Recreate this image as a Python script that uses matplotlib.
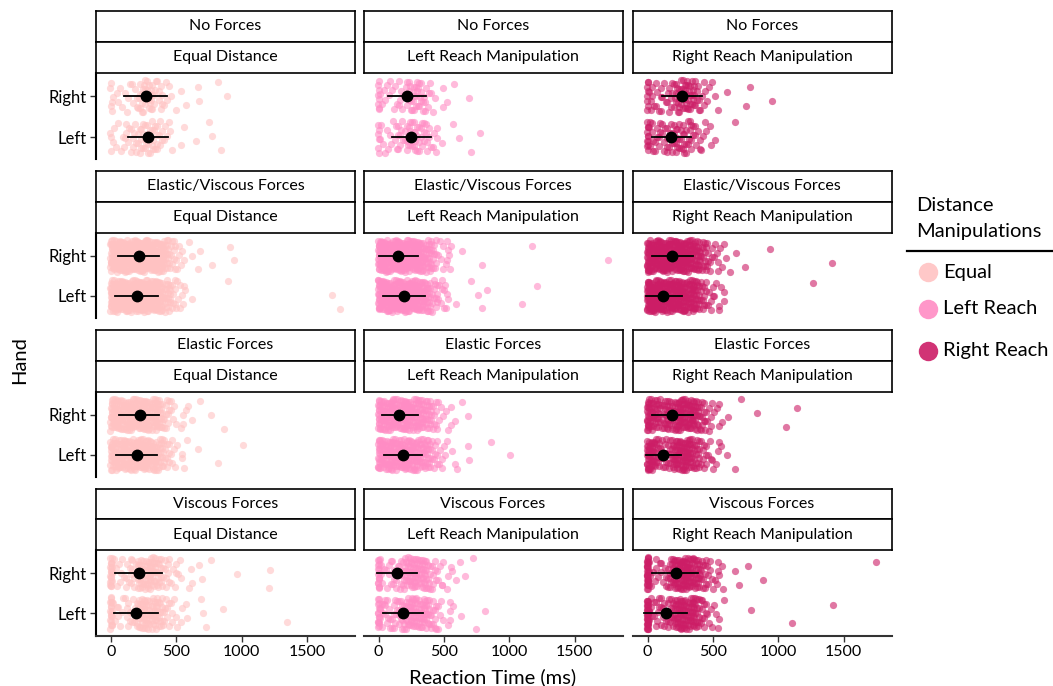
import numpy as np
import matplotlib
matplotlib.use("Agg")
import matplotlib.pyplot as plt
from matplotlib.lines import Line2D

plt.rcParams['font.family'] = ['Lato', 'DejaVu Sans']

# ---------------- data ----------------
force_rows = ["No Forces", "Elastic/Viscous Forces", "Elastic Forces", "Viscous Forces"]
dist_cols = ["Equal Distance", "Left Reach Manipulation", "Right Reach Manipulation"]
hands = ["Left", "Right"]
legend_labels = ["Equal", "Left Reach", "Right Reach"]
x_ticks = [0, 500, 1000, 1500]

# reaction-time bins (ms) and number of trials per bin, [col][hand]
bin_centers = [25, 75, 125, 175, 225, 275, 325, 375, 425, 475, 525, 575]

no_forces_zeros = [[3, 4], [6, 8], [10, 8]]
no_forces_counts = [
    [[3, 3, 6, 8, 10, 12, 10, 7, 4, 2, 0, 0], [3, 3, 4, 5, 10, 12, 10, 7, 4, 2, 0, 0]],
    [[4, 4, 5, 7, 11, 12, 10, 7, 4, 2, 0, 0], [3, 4, 4, 6, 10, 12, 10, 6, 3, 1, 0, 0]],
    [[8, 8, 7, 9, 12, 12, 10, 6, 4, 2, 0, 0], [6, 5, 5, 8, 14, 16, 14, 10, 5, 3, 0, 0]],
]
no_forces_outliers = [
    [[535, 560, 649, 750, 771, 840], [534, 572, 662, 674, 814, 885]],
    [[567, 612, 703, 779], [490, 520, 580, 688]],
    [[519, 668], [512, 535, 604, 755, 781, 948]],
]

elvis_zeros = [[10, 10], [10, 10], [12, 10]]
elvis_counts = [
    [[34, 34, 34, 38, 38, 38, 34, 28, 20, 10, 5, 2], [34, 34, 34, 38, 38, 38, 34, 28, 20, 10, 5, 2]],
    [[34, 34, 34, 34, 34, 32, 28, 22, 12, 6, 3, 1], [34, 34, 34, 34, 34, 32, 28, 22, 12, 5, 2, 1]],
    [[38, 35, 34, 34, 34, 32, 28, 22, 12, 6, 3, 1], [34, 34, 34, 34, 34, 34, 30, 24, 15, 8, 4, 2]],
]
elvis_outliers = [
    [[555, 616, 891, 1690, 1754], [616, 664, 682, 769, 906, 941]],
    [[505, 530, 708, 758, 788, 826, 1093, 1213], [520, 527, 535, 548, 637, 788, 1172, 1752]],
    [[550, 563, 581, 1268], [542, 581, 601, 627, 678, 742, 935, 1411]],
]

elastic_zeros = [[8, 8], [8, 8], [12, 10]]
elastic_counts = [
    [[26, 26, 26, 28, 28, 28, 25, 20, 10, 5, 2, 1], [26, 26, 26, 28, 28, 28, 25, 20, 10, 5, 2, 1]],
    [[26, 26, 26, 26, 26, 26, 22, 18, 10, 5, 2, 1], [26, 26, 26, 26, 26, 26, 22, 18, 10, 4, 2, 1]],
    [[28, 16, 11, 14, 26, 28, 24, 16, 9, 4, 2, 1], [26, 20, 15, 18, 26, 28, 25, 20, 12, 6, 3, 1]],
]
elastic_outliers = [
    [[545, 557, 666, 814, 1010], [548, 590, 620, 682, 763, 865]],
    [[560, 581, 683, 695, 860, 1003], [557, 581, 637, 683]],
    [[496, 550, 609, 671], [545, 614, 711, 840, 1058, 1145]],
]

viscous_zeros = [[18, 20], [15, 15], [30, 30]]
viscous_counts = [
    [[4, 5, 7, 8, 20, 22, 20, 15, 8, 5, 3, 1], [4, 5, 6, 8, 20, 22, 20, 15, 8, 5, 3, 1]],
    [[8, 8, 10, 14, 20, 22, 20, 16, 10, 5, 2, 1], [6, 6, 8, 12, 20, 22, 20, 15, 8, 4, 2, 1]],
    [[6, 8, 8, 14, 24, 27, 24, 19, 10, 4, 2, 1], [4, 5, 6, 14, 27, 30, 27, 21, 12, 6, 3, 1]],
]
viscous_outliers = [
    [[580, 687, 705, 725, 853, 1344], [611, 616, 675, 695, 763, 960, 1205, 1212]],
    [[545, 550, 632, 746, 815], [488, 556, 594, 624, 662, 720]],
    [[527, 537, 794, 1106, 1414], [517, 536, 550, 575, 665, 698, 768, 883, 1750]],
]

# mean reaction time and error-bar limits, [row][col][hand]
mean_rt = [
    [[285, 264], [248, 216], [182, 264]],
    [[195, 213], [195, 150], [121, 190]],
    [[195, 221], [190, 160], [121, 190]],
    [[192, 213], [190, 143], [138, 215]],
]
err_lo = [
    [[128, 102], [103, 70], [33, 110]],
    [[33, 56], [35, 2], [-15, 33]],
    [[41, 64], [40, 23], [-10, 31]],
    [[26, 33], [35, -8], [-28, 36]],
]
err_hi = [
    [[436, 428], [398, 361], [331, 418]],
    [[362, 367], [354, 303], [264, 344]],
    [[354, 367], [336, 299], [259, 349]],
    [[362, 390], [341, 293], [298, 382]],
]

zeros_all = [no_forces_zeros, elvis_zeros, elastic_zeros, viscous_zeros]
counts_all = [no_forces_counts, elvis_counts, elastic_counts, viscous_counts]
outliers_all = [no_forces_outliers, elvis_outliers, elastic_outliers, viscous_outliers]

# ---------------- style ----------------
point_colors = ["#FFC2C2", "#FF8CC4", "#CC1D66"]
W, H = 1053, 686
fig = plt.figure(figsize=(W / 100, H / 100), dpi=100)


def frect(x0, y0, x1, y1):
    return [x0 / W, 1 - y1 / H, (x1 - x0) / W, (y1 - y0) / H]


col_x = [96, 363.5, 632.5]
panel_w = 259
strip_top = [11, 171, 330, 488.5]
strip_h = 30.8
panel_bottom = [159.5, 318, 476.5, 635.5]

A1, A2 = 0.7548776662, 0.5698402910  # low-discrepancy jitter sequence


def jitter(n, seed_off):
    k = np.arange(n) + seed_off
    return (0.5 + k * A1) % 1.0, (0.5 + k * A2) % 1.0


for r in range(4):
    for c in range(3):
        x0 = col_x[c]
        st = strip_top[r]
        for k, lab in enumerate([force_rows[r], dist_cols[c]]):
            sa = fig.add_axes(frect(x0, st + k * strip_h, x0 + panel_w, st + (k + 1) * strip_h))
            sa.set_xticks([]); sa.set_yticks([])
            for sp in sa.spines.values():
                sp.set_color("black"); sp.set_linewidth(1.2)
            sa.text(0.5, 0.5, lab, ha="center", va="center", fontsize=11.5, transform=sa.transAxes)
        ax = fig.add_axes(frect(x0, st + 2 * strip_h, x0 + panel_w, panel_bottom[r]))
        ax.set_xlim(-115, 1865)
        ax.set_ylim(-0.55, 1.58)
        ax.patch.set_alpha(0)
        for sp in ax.spines.values():
            sp.set_visible(False)
        for h in range(2):
            vals = []
            xw = []
            nz = zeros_all[r][c][h]
            vals += [0.0] * nz
            xw += [8.0] * nz
            for bc, cnt in zip(bin_centers, counts_all[r][c][h]):
                vals += [float(bc)] * cnt
                xw += [25.0] * cnt
            outs = outliers_all[r][c][h]
            vals += [float(v) for v in outs]
            xw += [0.0] * len(outs)
            vals = np.array(vals); xw = np.array(xw)
            u, v = jitter(len(vals), 17 * (r * 6 + c * 2 + h))
            xs = vals + (u * 2 - 1) * xw
            ys = h + (v * 2 - 1) * 0.4
            ax.scatter(xs, ys, s=27, color=point_colors[c], alpha=0.6, linewidths=0, zorder=2)
            ax.plot([err_lo[r][c][h], err_hi[r][c][h]], [h, h], color="black", lw=1.3, zorder=3)
            ax.plot([mean_rt[r][c][h]], [h], "o", color="black", ms=7.5, zorder=4)
        if c == 0:
            ax.spines["left"].set_visible(True)
            ax.spines["left"].set_color("black")
            ax.spines["left"].set_linewidth(1.5)
            ax.set_yticks([0, 1])
            ax.set_yticklabels(hands, fontsize=12)
            ax.tick_params(axis="y", length=4, width=1, color="#333333", pad=3)
        else:
            ax.set_yticks([])
        if r == 3:
            ax.spines["bottom"].set_visible(True)
            ax.spines["bottom"].set_color("#333333")
            ax.spines["bottom"].set_linewidth(1.5)
            ax.set_xticks(x_ticks)
            ax.set_xticklabels([str(t) for t in x_ticks], fontsize=11.5)
            ax.tick_params(axis="x", length=4, width=1, color="#333333", pad=3)
        else:
            ax.set_xticks([])

fig.text(493 / W, 1 - 677 / H, "Reaction Time (ms)", ha="center", va="center", fontsize=14.5)
fig.text(20 / W, 1 - 360 / H, "Hand", ha="center", va="center", fontsize=14.5, rotation=90)

# legend
fig.text(916 / W, 1 - 206 / H, "Distance", ha="left", va="center", fontsize=14.5)
fig.text(916 / W, 1 - 231 / H, "Manipulations", ha="left", va="center", fontsize=14.5)
fig.add_artist(Line2D([907 / W, 1053 / W], [1 - 251 / H, 1 - 251 / H], color="black", lw=1.6))
leg_y = [272, 309, 351]
for lab, col, yy in zip(legend_labels, point_colors, leg_y):
    fig.add_artist(Line2D([928 / W], [1 - yy / H], marker="o", ms=14, color=col,
                          markeredgewidth=0, alpha=0.9, linestyle="none"))
    fig.text(943 / W, 1 - yy / H, lab, ha="left", va="center", fontsize=14.5)

fig.savefig("out.png", dpi=100)
